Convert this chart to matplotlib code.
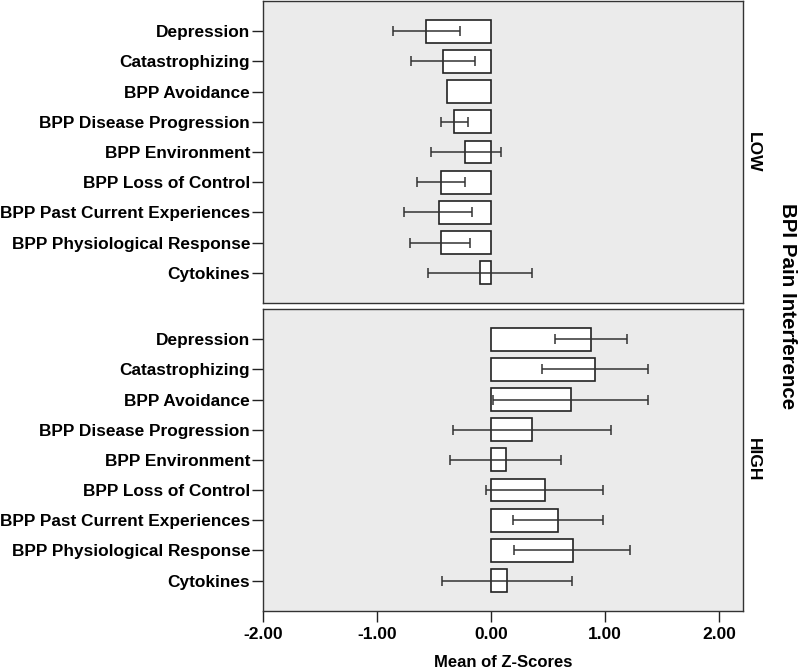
"""Mean z-scores by BPI pain interference group (LOW / HIGH)."""
import matplotlib
matplotlib.use("Agg")
import matplotlib.pyplot as plt
import numpy as np

plt.rcParams["font.family"] = ["Liberation Sans", "DejaVu Sans"]

measures = [
    "Depression",
    "Catastrophizing",
    "BPP Avoidance",
    "BPP Disease Progression",
    "BPP Environment",
    "BPP Loss of Control",
    "BPP Past Current Experiences",
    "BPP Physiological Response",
    "Cytokines",
]

# LOW group: mean and 95% CI (None = no error bar drawn)
low_mean = [-0.57, -0.42, -0.385, -0.32, -0.23, -0.44, -0.46, -0.44, -0.10]
low_ci_lo = [-0.86, -0.70, None, -0.435, -0.53, -0.65, -0.76, -0.71, -0.55]
low_ci_hi = [-0.27, -0.14, None, -0.20, 0.085, -0.225, -0.17, -0.18, 0.355]

# HIGH group
high_mean = [0.877, 0.915, 0.70, 0.361, 0.128, 0.472, 0.589, 0.714, 0.14]
high_ci_lo = [0.563, 0.443, 0.017, -0.33, -0.356, -0.04, 0.195, 0.201, -0.43]
high_ci_hi = [1.19, 1.379, 1.379, 1.05, 0.612, 0.985, 0.977, 1.219, 0.709]

groups = ["LOW", "HIGH"]
x_ticks = [-2.0, -1.0, 0.0, 1.0, 2.0]

fig = plt.figure(figsize=(8, 6.7), dpi=100)
ax_low = fig.add_axes([0.3284, 0.5478, 0.6007, 0.4507])
ax_high = fig.add_axes([0.3284, 0.0885, 0.6007, 0.4503])

panels = [
    (ax_low, low_mean, low_ci_lo, low_ci_hi),
    (ax_high, high_mean, high_ci_lo, high_ci_hi),
]

ypos = np.arange(len(measures))
for (ax, means, lo, hi), name in zip(panels, groups):
    ax.set_facecolor("#ebebeb")
    ax.barh(ypos, means, height=0.76, color="white", edgecolor="#222222",
            linewidth=1.2, zorder=2)
    for y, m, a, b in zip(ypos, means, lo, hi):
        if a is None:
            continue
        ax.errorbar(m, y, xerr=[[m - a], [b - m]], fmt="none",
                    ecolor="#333333", elinewidth=1.1, capsize=3.5,
                    capthick=1.1, zorder=3)
    ax.set_xlim(-2.0, 2.21)
    ax.set_ylim(len(measures), -1.0)
    ax.set_yticks(ypos)
    ax.set_yticklabels(measures, fontsize=12.4, fontweight="bold")
    ax.tick_params(axis="y", length=8, width=1, color="#222222", pad=1)
    for sp in ax.spines.values():
        sp.set_color("#333333")
        sp.set_linewidth(1.0)
    ax.text(1.022, 0.5, name, transform=ax.transAxes, rotation=-90,
            ha="center", va="center", fontsize=12.5, fontweight="bold")

ax_low.set_xticks([])
ax_high.set_xticks(x_ticks)
ax_high.set_xticklabels(["%.2f" % v for v in x_ticks], fontsize=12.5,
                        fontweight="bold")
ax_high.tick_params(axis="x", length=8, width=1, color="#222222", pad=4)
ax_high.set_xlabel("Mean of Z-Scores", fontsize=12, fontweight="bold",
                   labelpad=9)

fig.text(0.984, 0.543, "BPI Pain Interference", rotation=-90, ha="center",
         va="center", fontsize=14.8, fontweight="bold")

fig.savefig("out.png", dpi=100)
